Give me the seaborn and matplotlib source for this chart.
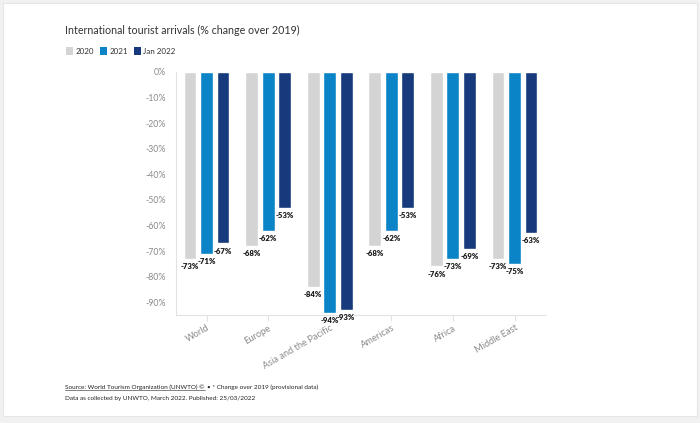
import pandas as pd
import seaborn as sns
import numpy as np
import matplotlib.pyplot as plt
from matplotlib.patches import Patch, Rectangle

regions = ["World", "Europe", "Asia and the Pacific", "Americas", "Africa", "Middle East"]
series = ["2020", "2021", "Jan 2022"]
vals_2020 = [-73, -68, -84, -68, -76, -73]
vals_2021 = [-71, -62, -94, -62, -73, -75]
vals_jan22 = [-67, -53, -93, -53, -69, -63]
colors = ["#d4d4d4", "#0a84c6", "#163a7c"]

df = pd.DataFrame({
    "Region": regions * 3,
    "Series": sum([[s] * len(regions) for s in series], []),
    "Change": vals_2020 + vals_2021 + vals_jan22,
})

sns.set_theme(style="white")
plt.rcParams["font.family"] = ["Lato", "DejaVu Sans"]

fig = plt.figure(figsize=(7, 4.23), dpi=100, facecolor="#f1f1f1")
fig.patches.append(Rectangle((3 / 700, 7 / 423), 694 / 700, 413 / 423, transform=fig.transFigure,
                             facecolor="white", edgecolor="#e6e6e6", lw=0.8, zorder=-10))
ax = fig.add_axes([0.251, 0.255, 0.528, 0.575])
ax.set_facecolor("none")

sns.barplot(data=df, x="Region", y="Change", hue="Series", hue_order=series, order=regions,
            palette=colors, width=0.8, gap=0.22, ax=ax, legend=False, saturation=1)

for cont in ax.containers:
    for bar in cont:
        h = bar.get_height()
        ax.annotate(f"{h:.0f}%", (bar.get_x() + bar.get_width() / 2, h), xytext=(0, -3),
                    textcoords="offset points", ha="center", va="top", fontsize=5.6,
                    fontweight="heavy", color="#1a1a1a", annotation_clip=False)

ax.set_ylim(-95, 0)
ax.set_xlim(-0.5, 5.5)
ax.set_yticks(np.arange(0, -91, -10))
ax.set_yticklabels([f"{t}%" for t in range(0, -91, -10)])
ax.set_xlabel("")
ax.set_ylabel("")
for s in ["top", "right"]:
    ax.spines[s].set_visible(False)
ax.spines["left"].set_color("#e2e2e2")
ax.spines["bottom"].set_color("#e2e2e2")
ax.spines["left"].set_linewidth(0.8)
ax.spines["bottom"].set_linewidth(0.8)
ax.tick_params(axis="y", length=0, labelsize=6.3, labelcolor="#8a8a8a", pad=7)
ax.tick_params(axis="x", length=4, width=0.8, color="#e2e2e2", labelsize=6.7,
               labelcolor="#8a8a8a", pad=2, bottom=True)
plt.setp(ax.get_xticklabels(), rotation=30, ha="right", rotation_mode="anchor")

fig.text(65 / 700, 1 - 30 / 423, "International tourist arrivals (% change over 2019)",
         fontsize=7.7, color="#333333", va="center")
handles = [Patch(facecolor=c, edgecolor="none") for c in colors]
fig.legend(handles, series, loc="center left", bbox_to_anchor=(63 / 700, 1 - 51 / 423),
           ncol=3, frameon=False, fontsize=5.8, handlelength=0.85, handleheight=1.2,
           handletextpad=0.35, columnspacing=0.7, borderaxespad=0, labelcolor="#333333")

t = fig.text(65 / 700, 1 - 387 / 423, "Source: World Tourism Organization (UNWTO) \u00a9",
             fontsize=4.6, color="#222222", va="center")
fig.canvas.draw()
bb = t.get_window_extent().transformed(fig.transFigure.inverted())
fig.lines.append(plt.Line2D([bb.x0, bb.x1], [bb.y0, bb.y0], transform=fig.transFigure,
                            color="#222222", lw=0.4))
fig.text(bb.x1 + 0.003, 1 - 387 / 423, "\u2022 * Change over 2019 (provisional data)",
         fontsize=4.6, color="#222222", va="center")
fig.text(65 / 700, 1 - 398 / 423, "Data as collected by UNWTO, March 2022. Published: 25/03/2022",
         fontsize=4.6, color="#222222", va="center")

fig.savefig("out.png", dpi=100, facecolor=fig.get_facecolor())
